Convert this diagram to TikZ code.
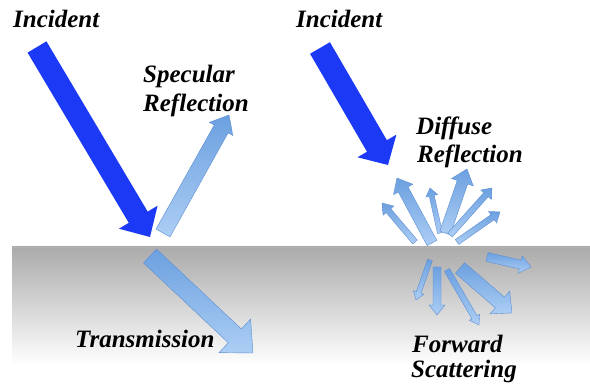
\documentclass[tikz,border=0pt]{standalone}
\usepackage{fontspec}
\setmainfont{Liberation Serif}
\definecolor{incblue}{RGB}{28,58,245}
\definecolor{ltdark}{RGB}{108,160,224}
\definecolor{ltlight}{RGB}{172,206,244}
\definecolor{ltedge}{RGB}{92,142,210}
\newcommand\fatarrow[6][]{%
  \pgfpointanchor{#2}{center}\pgfgetlastxy\fax\fay
  \pgfpointanchor{#3}{center}\pgfgetlastxy\fbx\fby
  \pgfmathsetmacro\flen{veclen(\fbx-\fax,\fby-\fay)}%
  \pgfmathsetmacro\fang{atan2(\fby-\fay,\fbx-\fax)}%
  \pgfmathsetmacro\fbase{\flen-#6}%
  \begin{scope}[shift={(#2)},rotate=\fang]
    \path[#1] (0,-#4/2) -- (\fbase,-#4/2) -- (\fbase,-#5/2) -- (\flen,0)
      -- (\fbase,#5/2) -- (\fbase,#4/2) -- (0,#4/2) -- cycle;
  \end{scope}}
\tikzset{
  incarrow/.style={fill=incblue},
  ltarrow/.style={top color=ltdark, bottom color=ltlight, draw=ltedge, line width=0.4pt},
  lbl/.style={anchor=base west, inner sep=0pt, font=\fontsize{25}{29}\selectfont\bfseries\itshape},
}
\begin{document}
\begin{tikzpicture}[x=1pt,y=1pt]
\useasboundingbox (0,0) rectangle (590,388);
% medium band
\shade[top color=black!33, bottom color=white] (12,23) rectangle (590,141);
\draw[black!30, line width=0.6pt] (12,141) -- (590,141);
% coordinates
\coordinate (i1t) at (37,341);  \coordinate (i1h) at (150,151);
\coordinate (st) at (163,155);  \coordinate (sh) at (229,273);
\coordinate (tt) at (150,132);  \coordinate (th) at (253,35);
\coordinate (i2t) at (320,340); \coordinate (i2h) at (388,223);
\coordinate (d1t) at (415,146); \coordinate (d1h) at (382,185);
\coordinate (d2t) at (432,145); \coordinate (d2h) at (397,210);
\coordinate (d3t) at (440,155); \coordinate (d3h) at (430,200);
\coordinate (d4t) at (445,155); \coordinate (d4h) at (467,219);
\coordinate (d5t) at (450,153); \coordinate (d5h) at (492,200);
\coordinate (d6t) at (457,146); \coordinate (d6h) at (500,176);
\coordinate (f1t) at (430,128); \coordinate (f1h) at (416,88);
\coordinate (f2t) at (437,121); \coordinate (f2h) at (437,73);
\coordinate (f3t) at (447,118); \coordinate (f3h) at (479,63);
\coordinate (f4t) at (460,120); \coordinate (f4h) at (512,75);
\coordinate (f5t) at (487,131); \coordinate (f5h) at (531,121);
% arrows
\fatarrow[incarrow]{i1t}{i1h}{22}{45}{23}
\fatarrow[ltarrow]{st}{sh}{16}{27}{16}
\fatarrow[ltarrow]{tt}{th}{19}{46}{25}
\fatarrow[incarrow]{i2t}{i2h}{23}{45}{22}
\fatarrow[ltarrow]{d1t}{d1h}{6}{14}{10}
\fatarrow[ltarrow]{d2t}{d2h}{11}{22}{13}
\fatarrow[ltarrow]{d3t}{d3h}{5}{12}{8}
\fatarrow[ltarrow]{d4t}{d4h}{11}{23}{14}
\fatarrow[ltarrow]{d5t}{d5h}{6}{14}{9}
\fatarrow[ltarrow]{d6t}{d6h}{6}{14}{9}
\fatarrow[ltarrow]{f1t}{f1h}{5}{11}{8}
\fatarrow[ltarrow]{f2t}{f2h}{8}{16}{10}
\fatarrow[ltarrow]{f3t}{f3h}{6}{12}{9}
\fatarrow[ltarrow]{f4t}{f4h}{14}{30}{16}
\fatarrow[ltarrow]{f5t}{f5h}{9}{18}{11}
% labels
\node[lbl] (inc1) at (13,360) {Incident};
\node[lbl] (spec1) at (143,305) {Specular};
\node[lbl] (spec2) at (143,276) {Reflection};
\node[lbl] (inc2) at (296,360) {Incident};
\node[lbl] (diff1) at (416,253) {Diffuse};
\node[lbl] (diff2) at (417,225) {Reflection};
\node[lbl] (trans) at (75,40) {Transmission};
\node[lbl] (fwd1) at (412,35) {Forward};
\node[lbl] (fwd2) at (411,10) {Scattering};
\end{tikzpicture}
\end{document}
